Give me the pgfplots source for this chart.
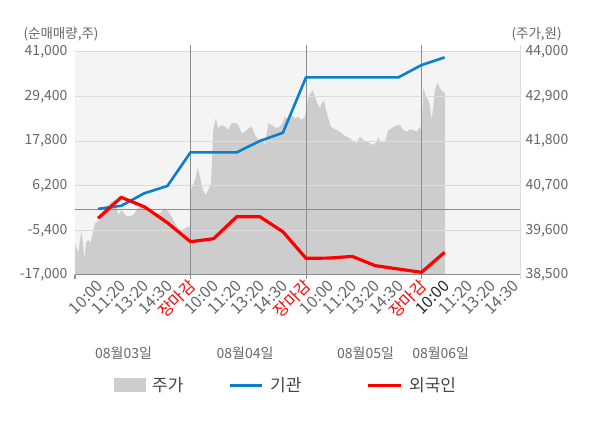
\documentclass[border=0pt]{standalone}
\usepackage{pgfplots}
\pgfplotsset{compat=1.18}
\usepackage{fontspec}
\setmainfont{Noto Sans CJK KR}
\definecolor{areagray}{HTML}{CDCDCD}
\definecolor{bggray}{HTML}{F4F4F4}
\definecolor{gridgray}{HTML}{DCDCDC}
\definecolor{sepgray}{HTML}{8C8C8C}
\definecolor{txtgray}{HTML}{666666}
\definecolor{legtxt}{HTML}{444444}
\definecolor{blueline}{HTML}{0A80CC}
\definecolor{redline}{HTML}{FF0000}
\begin{document}
\begin{tikzpicture}
\path[use as bounding box] (0,0) rectangle (600pt,428pt);
% ---------------- price (right axis, area) ----------------
\begin{axis}[
  at={(75pt,153pt)}, anchor=south west,
  scale only axis, width=445pt, height=223pt,
  xmin=0, xmax=445, ymin=38500, ymax=44000,
  axis x line=none, axis y line*=right,
  y axis line style={draw=none},
  axis background/.style={fill=bggray},
  ytick={38500,39600,40700,41800,42900,44000},
  scaled y ticks=false,
  ytick style={draw=none},
  yticklabel style={font=\fontsize{14}{14}\selectfont, text=txtgray, anchor=west, xshift=2pt},
  /pgf/number format/fixed, /pgf/number format/1000 sep={,},
  /pgf/number format/assume math mode=true,
]
\addplot[fill=areagray, draw=none] coordinates {
(0,38500) (0,39282) (3.3,39043) (5,39363) (6.7,39568) (8.3,39198) (9.3,38870)
(11,39289) (13.3,39363) (15.7,39289) (17.7,39536) (20,39783) (23.3,39815)
(26.7,39938) (31.7,40185) (36.7,40308) (40,40350) (43.3,39980) (46.7,40103)
(50,39980) (53.3,39938) (58.3,39980) (61.7,40103) (65,40185) (70,40145)
(75,40022) (80,40022) (85,40022) (89.3,40145) (93.3,40061) (96.7,39938)
(100,39775) (105,39568) (110,39652) (113.3,39691) (115.5,39700)
(116,40596) (120,40843) (122.7,41139) (125,40924) (128,40596) (130.7,40473)
(133.3,40596) (136,40769) (138.3,42076) (140.7,42365) (143.3,42126)
(146.7,42200) (150,42158) (153.3,42076) (156.7,42241) (160,42256)
(163.3,42200) (166.7,41995) (170,42034) (173.3,42118) (176.7,42158)
(180,41953) (183.3,41830) (186.7,41872) (190,41706) (193.3,42241)
(196.7,42200) (201.7,42118) (206.7,42200) (210,42404) (213.3,42323)
(216.7,42446) (220,42365) (223.3,42404) (226.7,42323) (230,42404)
(233.3,42898) (235.7,42981) (237.7,43063) (240,42898) (242.3,42735)
(245,42611) (246.7,42735) (249,42799) (251,42570) (253.3,42365)
(255.7,42158) (258.3,42118) (261.7,42076) (265,42034) (268.3,41953)
(271.7,41911) (275,41872) (278.3,41788) (281.7,41748) (285,41911)
(288.3,41830) (291.7,41788) (295,41748) (298.3,41706) (301.7,41788)
(303.3,41911) (305,41788) (310,41788) (313.3,42076) (316.7,42118)
(320,42175) (325,42200) (328.3,42076) (331.7,42034) (335,42093)
(338.3,42076) (341.7,42034) (345,42158) (346.7,41995)
(348.3,43105) (351,42898) (353.3,42816) (355,42651) (356.7,42323)
(358.3,42651) (360,43063) (362.3,43243) (365,43105) (367.7,43021)
(370,42981) (370,38500)
} \closedcycle;
\end{axis}
% ---------------- net buying (left axis, lines) ----------------
\begin{axis}[
  at={(75pt,153pt)}, anchor=south west,
  scale only axis, width=445pt, height=223pt,
  xmin=0, xmax=445, ymin=-17000, ymax=41000,
  axis x line*=bottom, axis y line*=left,
  y axis line style={draw=none},
  x axis line style={-, draw=sepgray, line width=1pt},
  ytick={-17000,-5400,6200,17800,29400,41000},
  scaled y ticks=false,
  ymajorgrids, grid style={draw=gridgray, line width=1pt},
  tick style={draw=none},
  yticklabel style={font=\fontsize{14}{14}\selectfont, text=txtgray, anchor=east, xshift=-4pt},
  xtick={23.1,46.2,69.3,92.4,115.5,138.6,161.7,184.8,207.9,231,254.1,277.2,300.3,323.4,346.5,369.6,392.7,415.8,438.9},
  xticklabels={10:00,11:20,13:20,14:30,\textcolor{redline}{장마감},10:00,11:20,13:20,14:30,\textcolor{redline}{장마감},10:00,11:20,13:20,14:30,\textcolor{redline}{장마감},\textcolor{black!85}{10:00},11:20,13:20,14:30},
  xticklabel style={font=\fontsize{16}{16}\selectfont, text=txtgray, rotate=45, anchor=east, inner sep=0pt, xshift=-4.2pt, yshift=-7.1pt},
  /pgf/number format/fixed, /pgf/number format/1000 sep={,},
  /pgf/number format/assume math mode=true,
  clip=false,
]
\draw[sepgray, line width=1pt] (axis cs:0,0) -- (axis cs:445,0);
\draw[sepgray, line width=1pt] ([yshift=-4pt]axis cs:115.5,-17000) -- ([yshift=7pt]axis cs:115.5,41000);
\draw[sepgray, line width=1pt] ([yshift=-4pt]axis cs:231,-17000) -- ([yshift=7pt]axis cs:231,41000);
\draw[sepgray, line width=1pt] ([yshift=-4pt]axis cs:346.5,-17000) -- ([yshift=7pt]axis cs:346.5,41000);
\draw[sepgray, line width=1pt] ([yshift=-4pt]axis cs:0,-17000) -- (axis cs:0,-17000);
\draw[gridgray, line width=1pt] ([yshift=-4pt]axis cs:445,-17000) -- ([yshift=7pt]axis cs:445,41000);
\addplot[blueline, line width=2.6pt, line join=round] coordinates {
(23.1,200) (46.2,1000) (69.3,4250) (92.4,6150) (115.5,14900) (138.6,14900)
(161.7,14900) (184.8,17850) (207.9,20000) (231,34400) (254.1,34400)
(277.2,34400) (300.3,34400) (323.4,34400) (346.5,37600) (369.6,39600)
};
\addplot[redline, line width=3.2pt, line join=round] coordinates {
(23.1,-2250) (46.2,3200) (69.3,760) (92.4,-3400) (115.5,-8340) (138.6,-7560)
(161.7,-1840) (184.8,-1840) (207.9,-5740) (231,-12660) (254.1,-12600)
(277.2,-12160) (300.3,-14580) (323.4,-15440) (346.5,-16300) (369.6,-11100)
};
\end{axis}
% ---------------- titles, dates, legend ----------------
\node[font=\fontsize{13.5}{14}\selectfont, text=txtgray, anchor=west] at (20pt,394pt) {(순매매량,주)};
\node[font=\fontsize{13.5}{14}\selectfont, text=txtgray, anchor=west] at (508pt,394pt) {(주가,원)};
\node[font=\fontsize{14}{14}\selectfont, text=txtgray] at (123.5pt,75pt) {08월03일};
\node[font=\fontsize{14}{14}\selectfont, text=txtgray] at (245pt,75pt) {08월04일};
\node[font=\fontsize{14}{14}\selectfont, text=txtgray] at (365.5pt,75pt) {08월05일};
\node[font=\fontsize{14}{14}\selectfont, text=txtgray] at (440.7pt,75pt) {08월06일};
\fill[areagray] (114pt,35.7pt) rectangle (145.7pt,49.7pt);
\node[font=\fontsize{17}{18}\selectfont, text=legtxt, anchor=west, inner sep=0pt] at (152pt,42.5pt) {주가};
\draw[blueline, line width=3pt] (230pt,42.3pt) -- (261.7pt,42.3pt);
\node[font=\fontsize{17}{18}\selectfont, text=legtxt, anchor=west, inner sep=0pt] at (270pt,42.5pt) {기관};
\draw[redline, line width=3pt] (368.3pt,42.3pt) -- (400.7pt,42.3pt);
\node[font=\fontsize{17}{18}\selectfont, text=legtxt, anchor=west, inner sep=0pt] at (409pt,42.5pt) {외국인};
\end{tikzpicture}
\end{document}
